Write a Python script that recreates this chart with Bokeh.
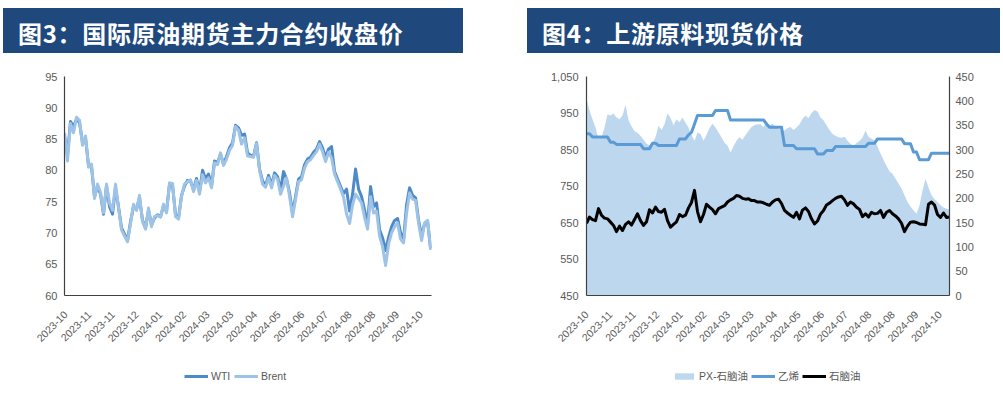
from bokeh.plotting import figure
from bokeh.layouts import row, column
from bokeh.models import (Range1d, LinearAxis, FixedTicker, NumeralTickFormatter,
                          Legend, LegendItem, Div)
from bokeh.embed import file_html
from bokeh.resources import INLINE
from math import pi

# ---------------- data ----------------
x_labels = ["2023-10", "2023-11", "2023-11", "2023-12", "2024-01", "2024-02", "2024-03", "2024-03",
            "2024-04", "2024-05", "2024-06", "2024-07", "2024-08", "2024-08", "2024-09", "2024-10"]

title_left = "图3：国际原油期货主力合约收盘价"
title_right = "图4：上游原料现货价格"

wti = [85.5, 82.5, 87.8, 87.0, 88.2, 87.6, 84.5, 85.2, 80.8, 80.6,
       75.8, 77.5, 76.2, 73.0, 77.5, 74.2, 73.0, 77.2, 74.2, 70.8,
       69.8, 68.8, 71.8, 74.2, 73.8, 75.6, 72.0, 70.8, 73.6, 71.3,
       72.4, 72.9, 72.6, 74.3, 73.5, 77.8, 77.6, 72.9, 72.4, 76.0,
       77.5, 78.4, 78.3, 76.9, 78.7, 76.6, 80.0, 78.6, 79.4, 77.6,
       81.5, 81.2, 82.6, 81.0, 82.2, 83.6, 84.4, 87.2, 86.8, 85.6,
       85.8, 82.8, 82.4, 82.3, 84.4, 80.2, 78.3, 77.6, 79.2, 77.6,
       79.6, 79.0, 76.8, 79.8, 78.6, 76.4, 73.2, 75.8, 78.6, 79.0,
       80.9, 81.8, 82.1, 82.9, 83.4, 84.6, 83.6, 82.0, 83.4, 83.8,
       79.8, 78.6, 77.4, 76.3, 77.0, 73.5, 76.2, 80.2, 77.0, 75.8,
       73.6, 71.5, 77.4, 74.2, 74.8, 70.5, 69.2, 67.2, 69.3, 71.0,
       72.0, 72.3, 70.0, 69.0, 74.5, 77.2, 76.0, 75.6, 72.0, 69.5,
       71.5, 71.8, 67.5]

brent = [86.0, 81.5, 87.5, 86.0, 88.5, 88.0, 84.0, 85.5, 80.5, 81.0,
         75.5, 77.8, 76.5, 73.2, 77.8, 74.8, 73.6, 77.8, 74.0, 70.5,
         69.5, 68.6, 71.5, 74.6, 73.6, 76.0, 71.8, 70.6, 74.0, 71.0,
         72.6, 72.8, 72.5, 74.6, 73.2, 78.0, 77.9, 72.6, 72.2, 75.8,
         77.8, 78.2, 78.5, 76.6, 78.4, 76.2, 79.3, 78.0, 78.8, 77.2,
         81.2, 80.9, 82.8, 80.8, 81.8, 83.2, 84.0, 87.0, 86.4, 84.2,
         85.2, 82.3, 82.2, 82.1, 84.3, 80.0, 77.8, 77.3, 78.8, 77.2,
         79.2, 78.6, 76.2, 77.5, 78.8, 75.8, 72.6, 75.4, 78.2, 78.5,
         80.4, 81.4, 81.7, 82.4, 83.0, 84.2, 83.0, 81.4, 82.9, 82.0,
         79.4, 78.2, 77.0, 75.7, 73.0, 71.5, 74.5, 76.2, 75.5, 74.8,
         72.5, 70.6, 75.8, 73.2, 73.5, 69.5, 67.8, 64.8, 68.2, 70.0,
         71.0, 71.6, 69.0, 68.4, 73.2, 76.4, 75.4, 75.2, 71.5, 68.8,
         71.6, 72.0, 67.3]

px_naphtha = [405, 380, 362, 345, 322, 325, 345, 372, 370, 374,
              366, 362, 370, 392, 360, 348, 338, 334, 328, 320,
              312, 308, 314, 325, 349, 340, 352, 374, 365, 350,
              362, 356, 366, 355, 345, 330, 318, 335, 332, 318,
              330, 344, 353, 345, 335, 325, 314, 308, 294, 306,
              318, 325, 320, 330, 338, 346, 350, 352, 352, 346,
              358, 350, 353, 346, 342, 340, 339, 344, 346, 340,
              345, 352, 363, 370, 364, 375, 381, 378, 366, 360,
              350, 340, 332, 328, 325, 324, 326, 318, 312, 308,
              313, 318, 324, 339, 326, 322, 319, 306, 292, 279,
              266, 255, 250, 240, 230, 220, 206, 192, 183, 175,
              168, 185, 216, 240, 222, 206, 198, 192, 186, 181,
              178, 176]

ethylene = [893, 893, 884, 884, 884, 884, 884, 884, 870, 870,
            864, 864, 864, 864, 864, 864, 864, 864, 864, 852,
            852, 852, 867, 867, 861, 861, 861, 861, 861, 861,
            861, 879, 879, 879, 890, 897, 920, 943, 943, 943,
            943, 943, 943, 957, 957, 957, 957, 957, 931, 931,
            931, 931, 931, 931, 931, 931, 931, 931, 931, 931,
            920, 911, 911, 911, 911, 911, 861, 861, 861, 861,
            852, 852, 852, 852, 852, 852, 852, 838, 838, 838,
            847, 847, 847, 858, 858, 858, 858, 858, 858, 858,
            858, 858, 858, 858, 867, 867, 867, 879, 879, 879,
            879, 879, 879, 879, 879, 879, 866, 866, 866, 843,
            843, 822, 822, 822, 822, 840, 840, 840, 840, 840,
            840, 840]

naphtha = [648, 665, 658, 655, 688, 670, 662, 660, 651, 642,
           625, 640, 628, 645, 652, 643, 658, 674, 655, 642,
           652, 685, 676, 692, 680, 678, 686, 655, 637, 645,
           652, 672, 666, 670, 690, 705, 738, 680, 652, 672,
           700, 692, 685, 674, 688, 692, 696, 706, 712, 716,
           724, 722, 716, 714, 715, 710, 710, 706, 706, 704,
           700, 697, 706, 712, 714, 702, 683, 676, 670, 664,
           678, 660, 684, 690, 680, 660, 646, 654, 673, 683,
           698, 703, 710, 716, 720, 722, 712, 697, 706, 701,
           692, 686, 666, 674, 665, 678, 674, 675, 683, 664,
           678, 683, 674, 668, 660, 648, 625, 640, 651, 652,
           650, 646, 645, 644, 700, 706, 698, 672, 664, 676,
           664, 665]

# ---------------- styles ----------------
TITLE_BG = "#1F497D"
AX_FONT = "Liberation Sans, Noto Sans CJK SC, sans-serif"
AX_TEXT = "#595959"
AX_LINE = "#404040"
C_WTI, C_BRENT = "#4E89C8", "#9DC3E6"
C_AREA, C_ETH, C_NAP = "#BDD7EE", "#5B9BD5", "black"
NAN = [float("nan")]  # legend-only renderers draw nothing in their strip


def title_div(text, outer_w, bar_left, bar_w, pad_left):
    html = ('<div style="margin-left:%dpx;margin-top:8px;width:%dpx;height:45px;'
            'background-color:%s;color:#ffffff;'
            'font-family:\'Noto Sans CJK SC\',sans-serif;font-weight:bold;font-size:24px;'
            'letter-spacing:0.7px;line-height:43px;padding-top:3px;padding-left:%dpx;'
            'box-sizing:border-box;white-space:nowrap;overflow:hidden;">%s</div>'
            ) % (bar_left, bar_w, TITLE_BG, pad_left, text)
    return Div(text=html, width=outer_w, height=53, margin=0)


def style_axis(ax, standoff, size="11px"):
    ax.axis_line_color = AX_LINE
    ax.axis_line_width = 1.2
    ax.major_tick_line_color = None
    ax.minor_tick_line_color = None
    ax.major_tick_out = 0
    ax.major_tick_in = 0
    ax.minor_tick_out = 0
    ax.major_label_text_font = AX_FONT
    ax.major_label_text_font_size = size
    ax.major_label_text_color = AX_TEXT
    ax.major_label_standoff = standoff


def legend_fig(width, b_left, b_right):
    f = figure(width=width, height=40, x_range=Range1d(0, 1), y_range=Range1d(0, 1),
               toolbar_location=None, output_backend="svg",
               min_border_left=b_left, min_border_right=b_right, min_border_top=0, min_border_bottom=0,
               x_axis_location=None, y_axis_location=None, outline_line_color=None)
    f.grid.visible = False
    return f


def style_legend(lg):
    lg.orientation = "horizontal"
    lg.border_line_color = None
    lg.background_fill_alpha = 0
    lg.padding = 0
    lg.margin = 0
    lg.spacing = 3
    lg.label_standoff = 3
    lg.glyph_width = 24
    lg.glyph_height = 8
    lg.label_height = 14
    lg.label_text_font = AX_FONT
    lg.label_text_font_size = "10.5px"
    lg.label_text_color = AX_TEXT


# ---------------- left chart ----------------
x1 = list(range(len(wti)))
p1 = figure(width=527, height=297, x_range=Range1d(0, len(wti) - 0.7), y_range=Range1d(60, 95),
            toolbar_location=None, output_backend="svg",
            min_border_left=64, min_border_right=96, min_border_top=23, min_border_bottom=55,
            outline_line_color=None)
p1.grid.visible = False
p1.line(x1, wti, line_color=C_WTI, line_width=3, line_join="round")
p1.line(x1, brent, line_color=C_BRENT, line_width=3, line_join="round")

ticks1 = [round(0.35 + 7.89 * k, 2) for k in range(len(x_labels))]
p1.xaxis.ticker = FixedTicker(ticks=ticks1)
p1.xaxis.major_label_overrides = {t: lab for t, lab in zip(ticks1, x_labels)}
p1.xaxis.major_label_orientation = pi / 4
p1.yaxis.ticker = FixedTicker(ticks=[60, 65, 70, 75, 80, 85, 90, 95])
style_axis(p1.xaxis[0], 17, "10.5px")
style_axis(p1.yaxis[0], 7)

# legend strip for the left chart
l1 = legend_fig(527, 64, 96)
k_wti = l1.line(x=NAN, y=NAN, line_color=C_WTI, line_width=3)
k_brent = l1.line(x=NAN, y=NAN, line_color=C_BRENT, line_width=3)
lg1 = Legend(items=[LegendItem(label="WTI", renderers=[k_wti]),
                    LegendItem(label="Brent", renderers=[k_brent])],
             location=(120, 7))
style_legend(lg1)
lg1.glyph_height = 4
l1.add_layout(lg1)

# ---------------- right chart ----------------
x2 = list(range(len(naphtha)))
p2 = figure(width=473, height=297, x_range=Range1d(0, len(naphtha) - 1), y_range=Range1d(450, 1050),
            toolbar_location=None, output_backend="svg",
            min_border_left=59, min_border_right=51, min_border_top=23, min_border_bottom=55,
            outline_line_color=None)
p2.grid.visible = False
p2.extra_y_ranges = {"spread": Range1d(0, 450)}
p2.varea(x=x2, y1=[0] * len(x2), y2=px_naphtha, y_range_name="spread", fill_color=C_AREA)
p2.line(x2, ethylene, line_color=C_ETH, line_width=3, line_join="round")
p2.line(x2, naphtha, line_color=C_NAP, line_width=3, line_join="round")

ticks2 = [round(0.05 + 7.85 * k, 2) for k in range(len(x_labels))]
p2.xaxis.ticker = FixedTicker(ticks=ticks2)
p2.xaxis.major_label_overrides = {t: lab for t, lab in zip(ticks2, x_labels)}
p2.xaxis.major_label_orientation = pi / 4
p2.yaxis.ticker = FixedTicker(ticks=[450, 550, 650, 750, 850, 950, 1050])
p2.yaxis.formatter = NumeralTickFormatter(format="0,0")
ax_r = LinearAxis(y_range_name="spread",
                  ticker=FixedTicker(ticks=[0, 50, 100, 150, 200, 250, 300, 350, 400, 450]))
p2.add_layout(ax_r, "right")
style_axis(p2.xaxis[0], 17, "10.5px")
style_axis(p2.yaxis[0], 8)
style_axis(ax_r, 6)

# legend strip for the right chart
l2 = legend_fig(473, 59, 51)
k_area = l2.varea(x=NAN, y1=NAN, y2=NAN, fill_color=C_AREA)
k_eth = l2.line(x=NAN, y=NAN, line_color=C_ETH, line_width=3)
k_nap = l2.line(x=NAN, y=NAN, line_color=C_NAP, line_width=3)
lg2 = Legend(items=[LegendItem(label="PX-石脑油", renderers=[k_area]),
                    LegendItem(label="乙烯", renderers=[k_eth]),
                    LegendItem(label="石脑油", renderers=[k_nap])],
             location=(86, 7))
style_legend(lg2)
l2.add_layout(lg2)

titles = row(title_div(title_left, 527, 3, 460, 15), title_div(title_right, 473, 0, 473, 15))
charts = row(p1, p2)
legends = row(l1, l2)
layout = column(titles, charts, legends)

open("out.html", "w").write(file_html(layout, INLINE))
